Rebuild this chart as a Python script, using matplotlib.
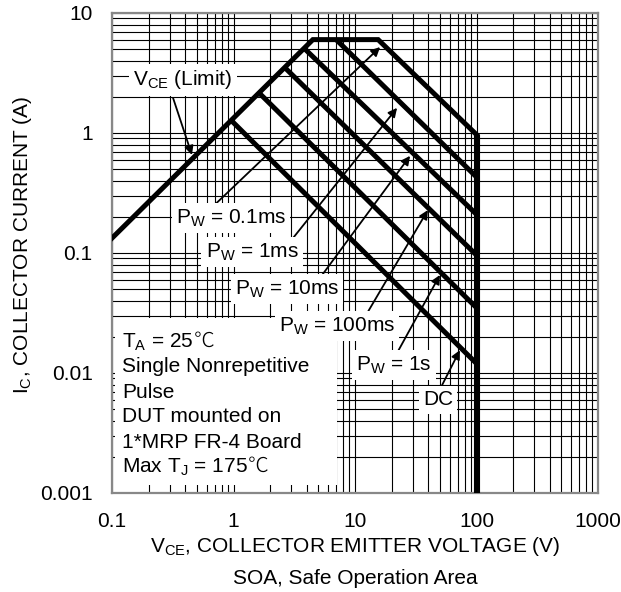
import matplotlib
matplotlib.use("Agg")
import matplotlib.pyplot as plt
from matplotlib.patches import Rectangle
from matplotlib.ticker import FixedLocator, NullFormatter

plt.rcParams['font.family'] = ['Liberation Sans', 'DejaVu Sans']
plt.rcParams['mathtext.fontset'] = 'custom'
plt.rcParams['mathtext.rm'] = 'Liberation Sans'
plt.rcParams['mathtext.it'] = 'Liberation Sans:italic'
plt.rcParams['mathtext.bf'] = 'Liberation Sans:bold'

# ---- data ----
x_ticks = [0.1, 1, 10, 100, 1000]
x_tick_labels = ["0.1", "1", "10", "100", "1000"]
y_ticks = [0.001, 0.01, 0.1, 1, 10]
y_tick_labels = ["0.001", "0.01", "0.1", "1", "10"]

# outer envelope: VCE limit -> 0.1 ms flat top -> 0.1 ms slope -> DC vertical limit
outline_v = [0.1, 4.5, 15.5, 100, 100]
outline_i = [0.133, 6.0, 6.0, 0.97, 0.001]

pw_1ms_v = [7.0, 100]
pw_1ms_i = [6.0, 0.43]
pw_10ms_v = [3.8, 100]
pw_10ms_i = [5.1, 0.21]
pw_100ms_v = [2.65, 100]
pw_100ms_i = [3.5, 0.096]
pw_1s_v = [1.63, 100]
pw_1s_i = [2.15, 0.035]
dc_v = [0.96, 100]
dc_i = [1.27, 0.012]

# labels: (text, label x, label y, arrow tail x, tail y, arrow head x, head y)
labels = [
    ("V$_{\\mathrm{CE}}$ (Limit)", 0.384, 2.77, 0.318, 1.96, 0.455, 0.656),
    ("P$_{\\mathrm{W}}$ = 0.1ms", 0.953, 0.196, 0.665, 0.24, 16.1, 5.2),
    ("P$_{\\mathrm{W}}$ = 1ms", 1.42, 0.102, 2.92, 0.124, 22.2, 1.62),
    ("P$_{\\mathrm{W}}$ = 10ms", 2.76, 0.050, 5.15, 0.062, 28.4, 0.645),
    ("P$_{\\mathrm{W}}$ = 100ms", 7.1, 0.0246, 12.6, 0.0316, 39.8, 0.228),
    ("P$_{\\mathrm{W}}$ = 1s", 20.9, 0.01166, 22.2, 0.0147, 50.0, 0.0656),
    ("DC", 48.2, 0.00596, 52.0, 0.0079, 73.0, 0.0155),
]

# (text, trailing degree sign?)
info_lines = [
    ("T$_{\\mathrm{A}}$ = 25", True),
    ("Single Nonrepetitive", False),
    ("Pulse", False),
    ("DUT mounted on", False),
    ("1*MRP FR-4 Board", False),
    ("Max T$_{\\mathrm{J}}$ = 175", True),
]

FS = 15

fig = plt.figure(figsize=(6.21, 5.92), dpi=100)
ax = fig.add_axes([112/621, 1-493/592, 486/621, 480/592])
ax.set_xscale('log')
ax.set_yscale('log')
ax.set_xlim(0.1, 1000)
ax.set_ylim(0.001, 10)

ax.xaxis.set_major_locator(FixedLocator(x_ticks))
ax.yaxis.set_major_locator(FixedLocator(y_ticks))
ax.set_xticklabels(x_tick_labels)
ax.set_yticklabels(y_tick_labels)
ax.xaxis.set_minor_formatter(NullFormatter())
ax.yaxis.set_minor_formatter(NullFormatter())
ax.tick_params(which='both', length=0, labelsize=FS)
ax.tick_params(axis='x', pad=13.5)
ax.tick_params(axis='y', pad=14)

ax.grid(True, which='both', color='black', lw=0.8, zorder=0)
ax.set_axisbelow(True)
for s in ax.spines.values():
    s.set_color('#888888')
    s.set_linewidth(1.6)

# curves
ax.plot(outline_v[:4], outline_i[:4], color='black', lw=3.6, solid_joinstyle='miter', zorder=3)
ax.plot(outline_v[3:], outline_i[3:], color='black', lw=4.4, solid_capstyle='butt', zorder=3)
for vv, ii in [(pw_1ms_v, pw_1ms_i), (pw_10ms_v, pw_10ms_i), (pw_100ms_v, pw_100ms_i),
               (pw_1s_v, pw_1s_i), (dc_v, dc_i)]:
    ax.plot(vv, ii, color='black', lw=3.6, solid_capstyle='butt', zorder=3)

# info box
ax.add_patch(Rectangle(((115-112)/486, (493-485)/480), (337-115)/486, (485-318)/480,
                       transform=ax.transAxes, facecolor='white', edgecolor='none', zorder=1))
for k, (line, deg) in enumerate(info_lines):
    ypx = 342 + 25*k
    t = ax.text((122-112)/486, (493-ypx)/480, line, transform=ax.transAxes, fontsize=FS,
                ha='left', va='center', zorder=4)
    if deg:
        ax.annotate("\u2103", xy=(1, 0.55), xycoords=t, ha='left', va='center', fontsize=FS,
                    family=['Noto Sans CJK JP', 'DejaVu Sans'], fontweight='light', zorder=4)

for txt, lx, ly, tx, ty, hx, hy in labels:
    ax.annotate("", xy=(hx, hy), xytext=(tx, ty),
                arrowprops=dict(arrowstyle='-|>', lw=1.3, color='black', mutation_scale=13,
                                shrinkA=0, shrinkB=0), zorder=5)
    ax.text(lx, ly, txt, fontsize=FS, ha='center', va='center', zorder=6,
            bbox=dict(facecolor='white', edgecolor='none', pad=3))

fig.text(355/621, 1-547/592, "V$_{\\mathrm{CE}}$, COLLECTOR EMITTER VOLTAGE (V)", fontsize=FS,
         ha='center', va='center')
fig.text(355/621, 1-578/592, "SOA, Safe Operation Area", fontsize=FS, ha='center', va='center')
fig.text(23/621, 1-245/592, "I$_{\\mathrm{C}}$, COLLECTOR CURRENT (A)", fontsize=FS,
         ha='center', va='center', rotation=90)

fig.savefig("out.png", dpi=100)
